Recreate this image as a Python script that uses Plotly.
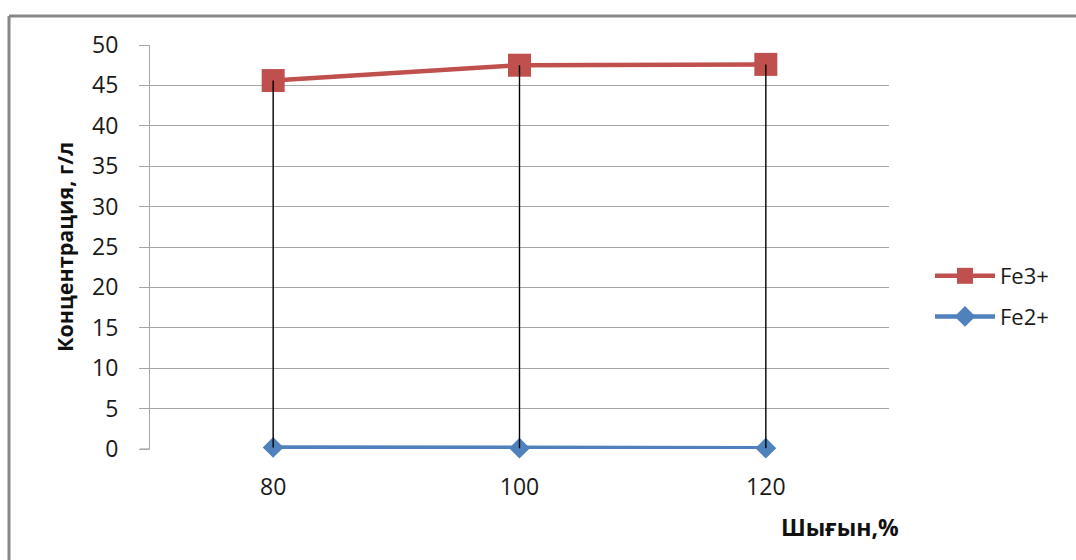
import plotly.graph_objects as go

# Consumption levels (category axis) and iron concentrations, g/l
categories = ["80", "100", "120"]
fe3_values = [45.6, 47.5, 47.6]
fe2_values = [0.2, 0.1, 0.1]

RED = "#C0504D"
BLUE = "#4F81BD"
FONT = "Open Sans"

# vertical high-low lines joining the two series at each category
drop_x, drop_y = [], []
for c, hi, lo in zip(categories, fe3_values, fe2_values):
    drop_x += [c, c, None]
    drop_y += [hi, lo, None]

fig = go.Figure()

fig.add_trace(go.Scatter(
    x=categories, y=fe3_values, name="Fe3+", mode="lines+markers",
    line=dict(color=RED, width=4.5),
    marker=dict(symbol="square", size=23, color=RED),
    legendgroup="a", cliponaxis=False,
))

fig.add_trace(go.Scatter(
    x=categories, y=fe2_values, name="Fe2+", mode="lines+markers",
    line=dict(color=BLUE, width=4.5),
    marker=dict(symbol="diamond", size=16, color=BLUE),
    legendgroup="b", cliponaxis=False,
))

# connectors drawn on top so they stay visible over the markers
fig.add_trace(go.Scatter(
    x=drop_x, y=drop_y, mode="lines",
    line=dict(color="black", width=1.4),
    showlegend=False, hoverinfo="skip", cliponaxis=False,
))

L, R, T, B = 150, 187, 45, 111
W, H = 1076, 560
pw, ph = W - L - R, H - T - B

def px(xp):
    return (xp - L) / pw

def py(yp):
    return (H - B - yp) / ph

fig.update_layout(
    width=W, height=H,
    margin=dict(l=L, r=R, t=T, b=B, pad=0),
    paper_bgcolor="white", plot_bgcolor="white",
    font=dict(family=FONT, size=23, color="#1a1a1a"),
    xaxis=dict(
        type="category", range=[-0.5, 2.5],
        showgrid=False, zeroline=False, showline=False,
        ticks="", ticklabelstandoff=22,
        tickfont=dict(size=23, family=FONT),
    ),
    yaxis=dict(
        range=[0, 50], dtick=5,
        showgrid=True, gridcolor="#A6A6A6", gridwidth=1.2,
        zeroline=False,
        showline=True, linecolor="#A6A6A6", linewidth=1.2,
        ticks="outside", ticklen=10, tickcolor="#A6A6A6", tickwidth=1.2,
        ticklabelstandoff=16,
        tickfont=dict(size=23, family=FONT),
        title=dict(text="<b>Концентрация, г/л</b>", standoff=12,
                   font=dict(size=21.5, family=FONT, color="#111111")),
    ),
    legend=dict(
        x=px(930), y=py(255), xanchor="left", yanchor="top",
        font=dict(size=22, family=FONT, color="#1a1a1a"),
        tracegroupgap=9, itemwidth=60,
        bgcolor="rgba(0,0,0,0)",
    ),
    showlegend=True,
)

# x-axis caption placed at the lower right
fig.add_annotation(
    x=px(840), y=py(527), xref="paper", yref="paper",
    xanchor="center", yanchor="middle",
    text="<b>Шығын,%</b>", showarrow=False,
    font=dict(size=23, family=FONT, color="#111111"),
)

# gridline at zero extends left to the tick mark
fig.add_shape(type="line", xref="paper", yref="paper",
              x0=px(140), x1=px(150), y0=0, y1=0,
              line=dict(color="#A6A6A6", width=1.2))

# chart frame
fig.add_shape(type="line", xref="paper", yref="paper",
              x0=px(9), x1=px(1100), y0=py(16), y1=py(16),
              line=dict(color="#888888", width=3))
fig.add_shape(type="line", xref="paper", yref="paper",
              x0=px(9), x1=px(9), y0=py(16), y1=py(600),
              line=dict(color="#888888", width=3))

fig.write_html("out.html")
